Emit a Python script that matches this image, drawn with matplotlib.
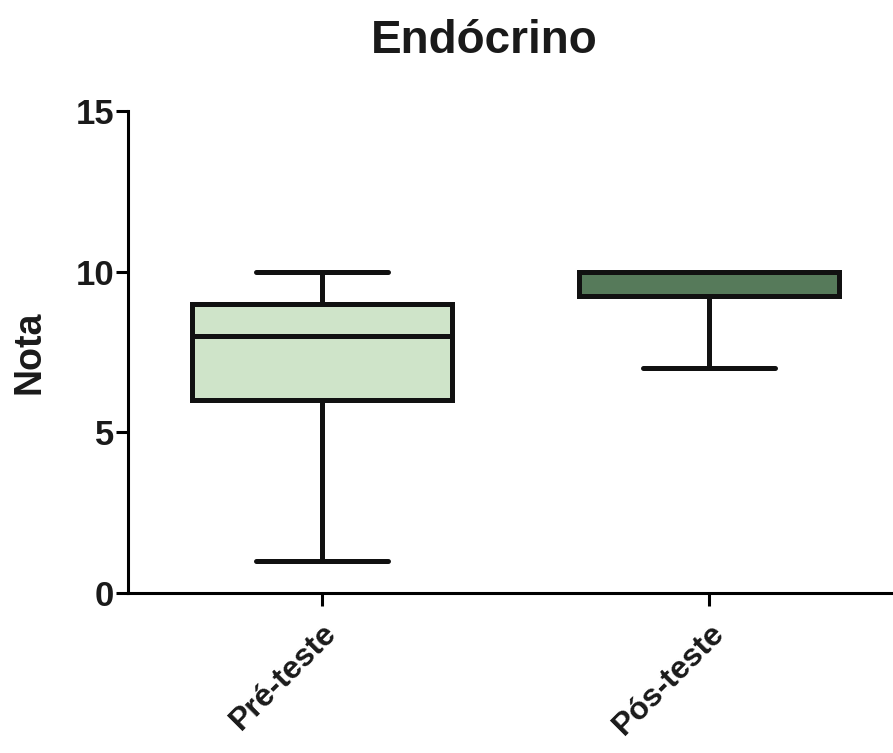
import matplotlib
matplotlib.use("Agg")
import matplotlib.pyplot as plt

# Box statistics
groups = ["Pré-teste", "Pós-teste"]
whisker_low = [1, 7]
q1 = [6, 9.25]
median = [8, 10]
q3 = [9, 10]
whisker_high = [10, 10]
fill_colors = ["#cfe4c9", "#567a5a"]

plt.rcParams['font.family'] = ['Liberation Sans', 'DejaVu Sans']
plt.rcParams['font.weight'] = 'bold'

fig = plt.figure(figsize=(8.93, 7.53), dpi=100)
ax = fig.add_axes([0.1433, 0.2125, 0.868, 0.6401])

stats = []
for i, name in enumerate(groups):
    stats.append({
        "label": name,
        "whislo": whisker_low[i],
        "q1": q1[i],
        "med": median[i],
        "q3": q3[i],
        "whishi": whisker_high[i],
        "fliers": [],
    })

lw = 3.6
bp = ax.bxp(stats, positions=[1, 2], widths=0.67, capwidths=0.34,
            patch_artist=True, showfliers=False,
            boxprops=dict(linewidth=lw, edgecolor="#111111"),
            medianprops=dict(linewidth=lw, color="#111111"),
            whiskerprops=dict(linewidth=lw, color="#111111"),
            capprops=dict(linewidth=lw, color="#111111", solid_capstyle="round"))
for patch, c in zip(bp["boxes"], fill_colors):
    patch.set_facecolor(c)
    patch.set_joinstyle("miter")

ax.set_xlim(0.5, 2.5)
ax.set_ylim(0, 15)
ax.set_yticks([0, 5, 10, 15])
ax.set_xticks([1, 2])
ax.set_xticklabels(groups, rotation=45, ha="right", rotation_mode="anchor",
                   fontsize=23, fontweight="bold", color="#1a1a1a")
ax.tick_params(axis="y", labelsize=25, width=2.2, length=9, pad=1, labelcolor="#1a1a1a")
ax.tick_params(axis="x", width=2.2, length=9, pad=9)
for lbl in ax.get_yticklabels():
    lbl.set_fontweight("bold")

ax.spines["top"].set_visible(False)
ax.spines["right"].set_visible(False)
ax.spines["left"].set_linewidth(2.2)
ax.spines["bottom"].set_linewidth(2.2)

ax.set_ylabel("Nota", fontsize=27, fontweight="bold", labelpad=20, color="#1a1a1a")
ax.set_title("Endócrino", fontsize=33, fontweight="bold", pad=42, x=0.46, color="#1a1a1a")

fig.savefig("out.png", dpi=100)
